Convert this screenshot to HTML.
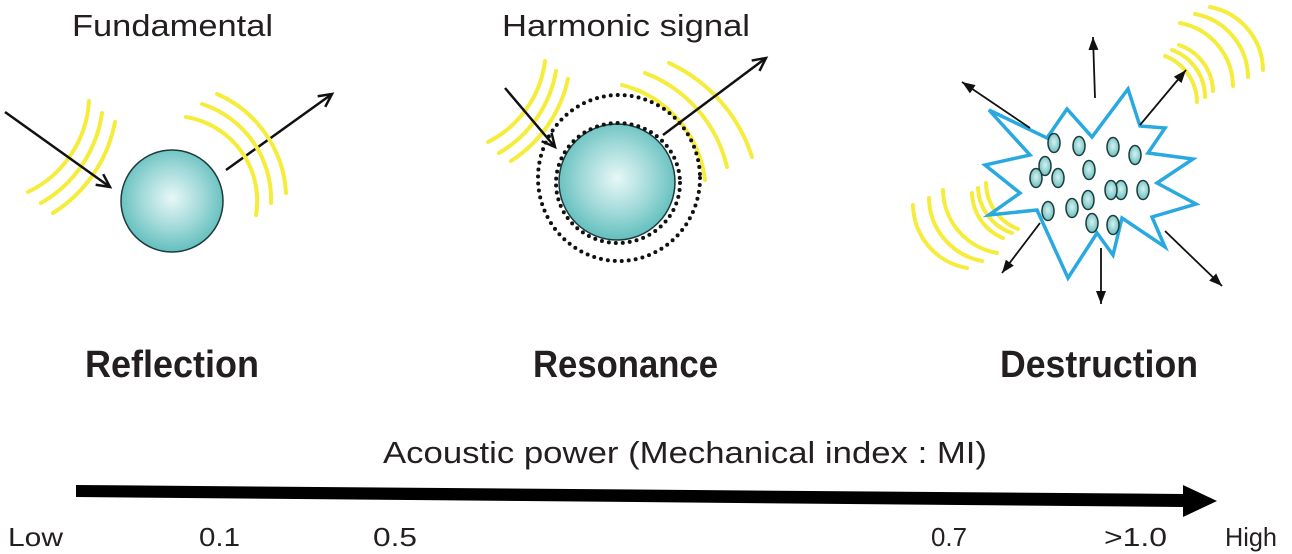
<!DOCTYPE html>
<html><head><meta charset="utf-8">
<style>
html,body{margin:0;padding:0;background:#fff;}
svg{display:block;}
text{font-family:"Liberation Sans",sans-serif;fill:#231f20;}
</style></head>
<body>
<svg width="1292" height="554" viewBox="0 0 1292 554" xmlns="http://www.w3.org/2000/svg">
<defs>
  <radialGradient id="sph" cx="0.5" cy="0.47" r="0.55">
    <stop offset="0" stop-color="#e8f7f7"/>
    <stop offset="0.55" stop-color="#9fd9d8"/>
    <stop offset="1" stop-color="#5dbdbc"/>
  </radialGradient>
  <radialGradient id="sm" cx="0.5" cy="0.45" r="0.6">
    <stop offset="0" stop-color="#d8f1f0"/>
    <stop offset="1" stop-color="#5fbcbb"/>
  </radialGradient>
  <marker id="open" markerWidth="20" markerHeight="20" refX="15" refY="8" orient="auto" markerUnits="userSpaceOnUse">
    <path d="M2,1.5 L15,8 L2,14.5" fill="none" stroke="#111" stroke-width="2.5"/>
  </marker>
  <marker id="tri" markerWidth="16" markerHeight="12" refX="13" refY="5" orient="auto" markerUnits="userSpaceOnUse">
    <path d="M0,0 L13,5 L0,10 Z" fill="#111"/>
  </marker>
</defs>

<!-- Top labels -->
<text x="72" y="36" font-size="31" textLength="201" lengthAdjust="spacingAndGlyphs">Fundamental</text>
<text x="502" y="36" font-size="31" textLength="248" lengthAdjust="spacingAndGlyphs">Harmonic signal</text>

<!-- Panel 1: Reflection -->
<g fill="none" stroke="#f6ec3c" stroke-width="4" stroke-linecap="round">
  <path d="M28,192 A108,108 0 0 0 89,101"/>
  <path d="M41,203 A123,123 0 0 0 102,113"/>
  <path d="M53,213 A138,138 0 0 0 115,122"/>
</g>
<line x1="5" y1="112" x2="110" y2="187" stroke="#111" stroke-width="2.5" marker-end="url(#open)"/>
<circle cx="172" cy="201" r="51" fill="url(#sph)" stroke="#1f3a3a" stroke-width="1.5"/>
<line x1="226" y1="170" x2="332" y2="94" stroke="#111" stroke-width="2.5" marker-end="url(#open)"/>
<g fill="none" stroke="#f6ec3c" stroke-width="4" stroke-linecap="round">
  <path d="M186,117 A85,85 0 0 1 256,215"/>
  <path d="M202,104 A100,100 0 0 1 271,203"/>
  <path d="M217,94 A115,115 0 0 1 286,193"/>
</g>

<!-- Panel 2: Resonance -->
<g fill="none" stroke="#f6ec3c" stroke-width="4" stroke-linecap="round">
  <path d="M488,142 A105,105 0 0 0 545,61"/>
  <path d="M499,153 A118,118 0 0 0 556,71"/>
  <path d="M511,161 A131,131 0 0 0 568,79"/>
  <path d="M622,85 A112,112 0 0 1 705,180"/>
  <path d="M645,73 A133,133 0 0 1 727,167"/>
  <path d="M669,63 A155,155 0 0 1 752,157"/>
</g>
<circle cx="617" cy="182" r="58" fill="url(#sph)" stroke="#1f3a3a" stroke-width="1.5"/>
<g fill="none" stroke="#111" stroke-width="4" stroke-linecap="round" stroke-dasharray="0 7">
  <ellipse cx="619" cy="178" rx="81" ry="83"/>
  <ellipse cx="618" cy="183" rx="62" ry="60"/>
</g>
<line x1="505" y1="88" x2="555" y2="147" stroke="#111" stroke-width="2.5" marker-end="url(#open)"/>
<line x1="663" y1="135" x2="766" y2="58" stroke="#111" stroke-width="2.5" marker-end="url(#open)"/>

<!-- Panel 3: Destruction -->
<g fill="none" stroke="#f6ec3c" stroke-width="4" stroke-linecap="round">
  <path d="M1210,7 A65,65 0 0 1 1263,70"/>
  <path d="M1195,14 A65,65 0 0 1 1248,77"/>
  <path d="M1180,23 A65,65 0 0 1 1233,86"/>
  <path d="M1179,45 A50,50 0 0 1 1213,91"/>
  <path d="M1172,50 A50,50 0 0 1 1205,97"/>
  <path d="M1165,56 A50,50 0 0 1 1197,102"/>
  <path d="M913,205 A65,65 0 0 0 967,268"/>
  <path d="M929,198 A65,65 0 0 0 982,261"/>
  <path d="M943,190 A65,65 0 0 0 997,253"/>
  <path d="M972,193 A50,50 0 0 0 1003,238"/>
  <path d="M978,188 A50,50 0 0 0 1012,233"/>
  <path d="M986,183 A50,50 0 0 0 1018,229"/>
</g>
<polygon points="989,110 1047,138 1067,109 1092,137 1128,89 1140,126 1165,128 1148,153 1193,159 1157,183 1196,204 1152,217 1165,247 1122,218 1113,255 1097,233 1068,278 1037,210 989,215 1020,193 985,165 1030,155"
  fill="#fff" stroke="#29a9e0" stroke-width="3.5" stroke-linejoin="miter"/>
<g fill="url(#sm)" stroke="#1d3b3b" stroke-width="1.5">
  <ellipse cx="1054" cy="143" rx="6" ry="9.5"/>
  <ellipse cx="1079" cy="146" rx="6" ry="9.5"/>
  <ellipse cx="1113" cy="147" rx="6" ry="9.5"/>
  <ellipse cx="1135" cy="155" rx="6" ry="9.5"/>
  <ellipse cx="1045" cy="166" rx="6" ry="9.5"/>
  <ellipse cx="1036" cy="178" rx="6" ry="9.5"/>
  <ellipse cx="1058" cy="178" rx="6" ry="9.5"/>
  <ellipse cx="1089" cy="170" rx="6" ry="9.5"/>
  <ellipse cx="1121" cy="190" rx="6" ry="9.5"/>
  <ellipse cx="1111" cy="190" rx="6" ry="9.5"/>
  <ellipse cx="1143" cy="190" rx="6" ry="9.5"/>
  <ellipse cx="1048" cy="211" rx="6" ry="9.5"/>
  <ellipse cx="1072" cy="208" rx="6" ry="9.5"/>
  <ellipse cx="1088" cy="200" rx="6" ry="9.5"/>
  <ellipse cx="1092" cy="223" rx="6" ry="9.5"/>
  <ellipse cx="1113" cy="225" rx="6" ry="9.5"/>
</g>
<g stroke="#111" stroke-width="1.8" marker-end="url(#tri)">
  <line x1="1095" y1="98" x2="1093" y2="37"/>
  <line x1="1030" y1="128" x2="962" y2="82"/>
  <line x1="1140" y1="125" x2="1186" y2="70"/>
  <line x1="1040" y1="223" x2="1002" y2="273"/>
  <line x1="1101" y1="248" x2="1101" y2="304"/>
  <line x1="1165" y1="231" x2="1222" y2="286"/>
</g>

<!-- Bold labels -->
<text x="85" y="377" font-size="38" font-weight="bold" textLength="174" lengthAdjust="spacingAndGlyphs">Reflection</text>
<text x="533" y="377" font-size="38" font-weight="bold" textLength="185" lengthAdjust="spacingAndGlyphs">Resonance</text>
<text x="1000" y="377" font-size="38" font-weight="bold" textLength="198" lengthAdjust="spacingAndGlyphs">Destruction</text>

<!-- Axis -->
<text x="383" y="463" font-size="31" textLength="604" lengthAdjust="spacingAndGlyphs">Acoustic power (Mechanical index : MI)</text>
<polygon points="76,485 1183,494 1183,485 1217,501 1183,517 1183,507 76,497" fill="#000"/>
<g font-size="26">
  <text x="8" y="546" textLength="55" lengthAdjust="spacingAndGlyphs">Low</text>
  <text x="199" y="546" textLength="41" lengthAdjust="spacingAndGlyphs">0.1</text>
  <text x="373" y="546" textLength="44" lengthAdjust="spacingAndGlyphs">0.5</text>
  <text x="931" y="546" textLength="36" lengthAdjust="spacingAndGlyphs">0.7</text>
  <text x="1104" y="546" textLength="63" lengthAdjust="spacingAndGlyphs">&gt;1.0</text>
  <text x="1225" y="546" textLength="52" lengthAdjust="spacingAndGlyphs">High</text>
</g>
</svg>
</body></html>
